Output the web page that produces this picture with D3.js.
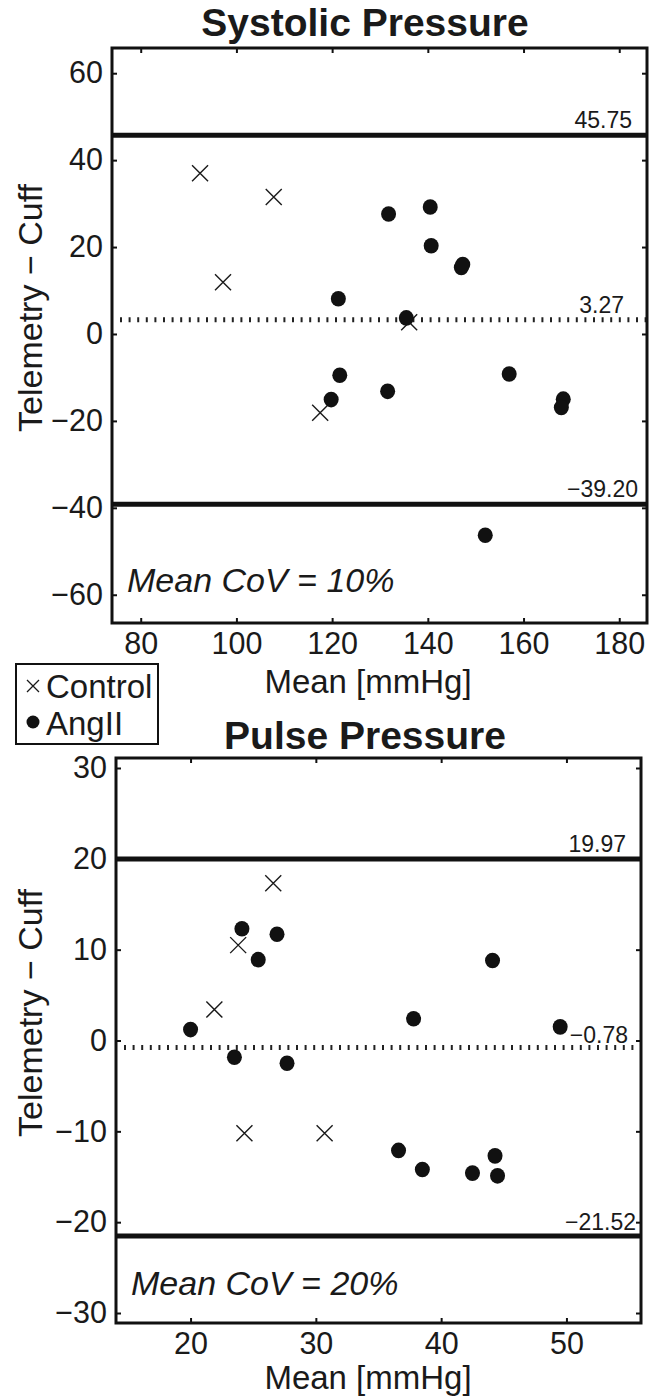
<!DOCTYPE html>
<html><head><meta charset="utf-8">
<script src="https://cdn.jsdelivr.net/npm/d3@7/dist/d3.min.js"></script>
<style>
html,body{margin:0;padding:0;background:#fff;}
svg{display:block;font-family:"Liberation Sans",Arial,Helvetica,sans-serif;}
</style></head>
<body>
<svg id="chart" width="652" height="1397"></svg>
<script>
// ---- Systolic Pressure panel data ----
const sysControlMean = [92.4, 97.2, 107.8, 136.1, 117.5];
const sysControlDiff = [37.0, 11.9, 31.5, 2.7, -18.1];
const sysAngMean = [121.3, 131.8, 140.5, 140.7, 147.0, 147.3, 135.5, 121.6, 119.8, 131.6, 157.0, 168.3, 167.9, 152.0];
const sysAngDiff = [8.1, 27.6, 29.2, 20.3, 15.3, 16.0, 3.7, -9.5, -15.1, -13.2, -9.2, -15.0, -16.9, -46.3];
const sysLimits = [45.75, 3.27, -39.20];   // upper LoA, bias, lower LoA
const sysXTicks = [80, 100, 120, 140, 160, 180];
const sysYTicks = [-60, -40, -20, 0, 20, 40, 60];

// ---- Pulse Pressure panel data ----
const ppControlMean = [26.6, 23.8, 21.9, 24.3, 30.7];
const ppControlDiff = [17.3, 10.5, 3.4, -10.2, -10.2];
const ppAngMean = [20.0, 24.1, 26.9, 25.4, 37.8, 44.1, 49.5, 23.5, 27.7, 36.6, 38.5, 42.5, 44.3, 44.5];
const ppAngDiff = [1.2, 12.3, 11.7, 8.9, 2.4, 8.8, 1.5, -1.85, -2.5, -12.1, -14.2, -14.6, -12.7, -14.9];
const ppLimits = [19.97, -0.78, -21.52];
const ppXTicks = [20, 30, 40, 50];
const ppYTicks = [-30, -20, -10, 0, 10, 20, 30];

const titles = ["Systolic Pressure", "Pulse Pressure"];
const xLabel = "Mean [mmHg]";
const yLabel = "Telemetry \u2212 Cuff";
const covTexts = ["Mean CoV = 10%", "Mean CoV = 20%"];
const legendLabels = ["Control", "AngII"];

const svg = d3.select("#chart");
const fmtLim = d3.format(".2f");

function panel(cfg) {
  const g = svg.append("g");
  const x = d3.scaleLinear().domain(cfg.xDomain).range([cfg.left, cfg.right]);
  const y = d3.scaleLinear().domain(cfg.yDomain).range([cfg.bottom, cfg.top]);

  // axes with inward ticks
  const ax = (a, tr, lab) => {
    const gg = g.append("g").attr("transform", tr).call(a);
    gg.select(".domain").remove();
    gg.selectAll(".tick line").attr("stroke", "#111").attr("stroke-width", 2);
    gg.selectAll(".tick text").attr("fill", "#1a1a1a").attr("font-size", 30.5);
    if (!lab) gg.selectAll(".tick text").remove();
    return gg;
  };
  ax(d3.axisBottom(x).tickValues(cfg.xTicks).tickSize(-5).tickPadding(9), `translate(0,${cfg.bottom})`, true);
  ax(d3.axisTop(x).tickValues(cfg.xTicks).tickSize(-5), `translate(0,${cfg.top})`, false);
  ax(d3.axisLeft(y).tickValues(cfg.yTicks).tickSize(-5).tickPadding(9), `translate(${cfg.left},0)`, true);
  ax(d3.axisRight(y).tickValues(cfg.yTicks).tickSize(-5), `translate(${cfg.right},0)`, false);

  // limit lines
  g.append("line").attr("x1", cfg.left).attr("x2", cfg.right)
    .attr("y1", y(cfg.limits[0])).attr("y2", y(cfg.limits[0]))
    .attr("stroke", "#111").attr("stroke-width", 5);
  g.append("line").attr("x1", cfg.left).attr("x2", cfg.right)
    .attr("y1", y(cfg.limits[2])).attr("y2", y(cfg.limits[2]))
    .attr("stroke", "#111").attr("stroke-width", 5);
  g.append("line").attr("x1", cfg.left + 8).attr("x2", cfg.right)
    .attr("y1", y(cfg.limits[1])).attr("y2", y(cfg.limits[1]))
    .attr("stroke", "#222").attr("stroke-width", 5).attr("stroke-dasharray", "2 6.6");

  // limit labels
  cfg.limits.forEach((v, i) => {
    g.append("text").attr("x", cfg.labelX[i]).attr("y", y(v) - cfg.labelDy[i])
      .attr("text-anchor", "end").attr("font-size", 23).attr("fill", "#1a1a1a")
      .text(fmtLim(v).replace("-", "\u2212"));
  });

  // control markers (x)
  const s = 8;
  g.append("g").selectAll("path").data(cfg.cMean.map((m, i) => [m, cfg.cDiff[i]]))
    .join("path")
    .attr("d", d => {
      const cx = x(d[0]), cy = y(d[1]);
      return `M${cx - s},${cy - s}L${cx + s},${cy + s}M${cx - s},${cy + s}L${cx + s},${cy - s}`;
    })
    .attr("stroke", "#1a1a1a").attr("stroke-width", 1.4).attr("fill", "none");

  // AngII markers (filled circles)
  g.append("g").selectAll("ellipse").data(cfg.aMean.map((m, i) => [m, cfg.aDiff[i]]))
    .join("ellipse")
    .attr("cx", d => x(d[0])).attr("cy", d => y(d[1]))
    .attr("rx", 7.5).attr("ry", 7.8).attr("fill", "#111");

  // box
  g.append("rect").attr("x", cfg.left).attr("y", cfg.top)
    .attr("width", cfg.right - cfg.left).attr("height", cfg.bottom - cfg.top)
    .attr("fill", "none").attr("stroke", "#111").attr("stroke-width", 3);

  // texts
  g.append("text").attr("x", 365).attr("y", cfg.titleY).attr("text-anchor", "middle")
    .attr("font-size", 39).attr("font-weight", "bold").attr("fill", "#1a1a1a").text(cfg.title);
  g.append("text").attr("x", 368).attr("y", cfg.xLabelY).attr("text-anchor", "middle")
    .attr("font-size", 33).attr("fill", "#1a1a1a").text(xLabel);
  g.append("text").attr("transform", `translate(42,${cfg.yLabelC}) rotate(-90)`)
    .attr("text-anchor", "middle").attr("font-size", 34).attr("fill", "#1a1a1a").text(yLabel);
  g.append("text").attr("x", cfg.left + 15).attr("y", cfg.covY)
    .attr("font-size", 34).attr("font-style", "italic").attr("fill", "#1a1a1a").text(cfg.cov);
}

panel({
  left: 112, right: 647, top: 48, bottom: 623,
  xDomain: [74, 185.8], yDomain: [-66.5, 65.8],
  xTicks: sysXTicks, yTicks: sysYTicks, limits: sysLimits,
  labelX: [632, 624, 638], labelDy: [7, 7, 7],
  cMean: sysControlMean, cDiff: sysControlDiff, aMean: sysAngMean, aDiff: sysAngDiff,
  title: titles[0], titleY: 36, xLabelY: 693, yLabelC: 308, covY: 592, cov: covTexts[0]
});

panel({
  left: 116, right: 641, top: 758, bottom: 1323,
  xDomain: [14.05, 55.95], yDomain: [-31.1, 31.1],
  xTicks: ppXTicks, yTicks: ppYTicks, limits: ppLimits,
  labelX: [626, 628, 636], labelDy: [7, 5, 6],
  cMean: ppControlMean, cDiff: ppControlDiff, aMean: ppAngMean, aDiff: ppAngDiff,
  title: titles[1], titleY: 749, xLabelY: 1389, yLabelC: 1013, covY: 1295, cov: covTexts[1]
});

// legend
const lg = svg.append("g");
lg.append("rect").attr("x", 16).attr("y", 664).attr("width", 142).attr("height", 80)
  .attr("fill", "#fff").attr("stroke", "#111").attr("stroke-width", 2);
lg.append("path").attr("d", "M27,680L39,692M27,692L39,680").attr("stroke", "#1a1a1a").attr("stroke-width", 1.3);
lg.append("circle").attr("cx", 33).attr("cy", 722).attr("r", 6.5).attr("fill", "#111");
lg.append("text").attr("x", 46).attr("y", 698).attr("font-size", 33).attr("fill", "#1a1a1a").text(legendLabels[0]);
lg.append("text").attr("x", 46).attr("y", 735).attr("font-size", 33).attr("fill", "#1a1a1a").text(legendLabels[1]);
</script>
</body></html>
